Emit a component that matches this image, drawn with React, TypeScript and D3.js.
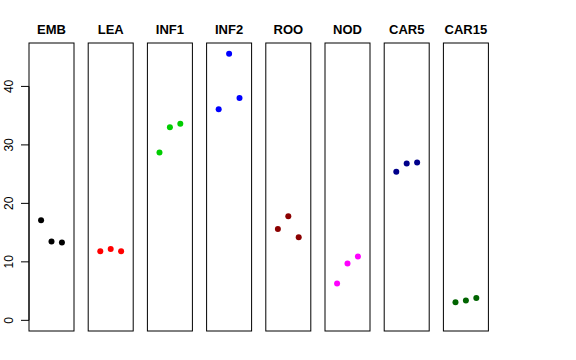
import React from "react";
import * as d3 from "d3";

const categories = ["EMB", "LEA", "INF1", "INF2", "ROO", "NOD", "CAR5", "CAR15"];
const colors = ["#000000", "#FF0000", "#00CD00", "#0000FF", "#8B0000", "#FF00FF", "#00008B", "#006400"];
const rep1 = [17.1, 11.8, 28.7, 36.1, 15.6, 6.3, 25.4, 3.1];
const rep2 = [13.5, 12.2, 33.0, 45.6, 17.8, 9.7, 26.8, 3.4];
const rep3 = [13.3, 11.8, 33.6, 38.0, 14.2, 10.9, 27.0, 3.8];
const yTicks = [0, 10, 20, 30, 40];

const W = 576;
const H = 360;

export default function App() {
  const panelLeft = 29;
  const panelStep = 59.2;
  const panelW = 45;
  const top = 43;
  const bottom = 331;

  const ymaxData = d3.max([...rep1, ...rep2, ...rep3]) as number;
  const ext = (ymaxData - 0) * 0.04;
  const y = d3.scaleLinear().domain([0 - ext, ymaxData + ext]).range([bottom, top]);
  const x = d3.scaleLinear().domain([-0.16, 4.16]).range([0, panelW]);

  const reps = [rep1, rep2, rep3];

  return (
    <div style={{ position: "absolute", left: 0, top: 0 }}>
      <svg width={W} height={H} style={{ display: "block", background: "#fff" }} fontFamily="'Liberation Sans', Arial, sans-serif">
        <rect x={0} y={0} width={W} height={H} fill="#fff" />
        {categories.map((c, i) => {
          const px = panelLeft + panelStep * i;
          return (
            <g key={c} transform={`translate(${px},0)`}>
              <text x={panelW / 2} y={34} textAnchor="middle" fontWeight="bold" fontSize={13}>
                {c}
              </text>
              {reps.map((r, j) => (
                <circle key={j} cx={x(j + 1)} cy={y(r[i])} r={3} fill={colors[i]} />
              ))}
              <rect x={0} y={top} width={panelW} height={bottom - top} fill="none" stroke="#000" strokeWidth={1} />
            </g>
          );
        })}
        <g>
          <line x1={panelLeft} x2={panelLeft} y1={y(0)} y2={y(40)} stroke="#000" />
          {yTicks.map((t) => (
            <g key={t}>
              <line x1={panelLeft - 8} x2={panelLeft} y1={y(t)} y2={y(t)} stroke="#000" />
              <text
                transform={`translate(${13},${y(t)}) rotate(-90)`}
                textAnchor="middle"
                fontSize={12}
              >
                {t}
              </text>
            </g>
          ))}
        </g>
      </svg>
    </div>
  );
}
